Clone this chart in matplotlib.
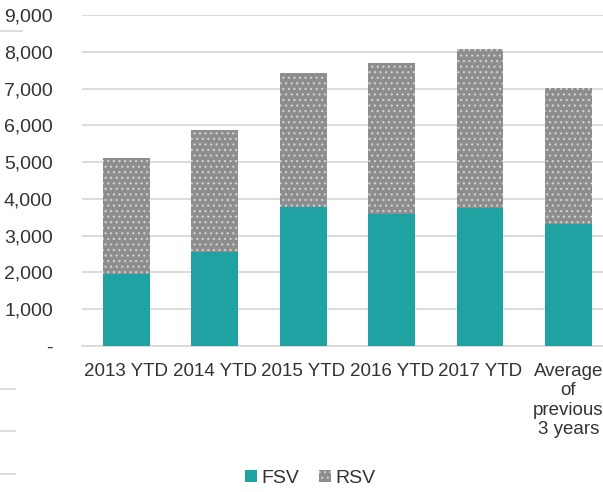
import matplotlib
matplotlib.use('Agg')
import matplotlib.pyplot as plt
import numpy as np
from matplotlib.lines import Line2D

categories = ['2013 YTD', '2014 YTD', '2015 YTD', '2016 YTD', '2017 YTD',
              'Average\nof\nprevious\n3 years']
fsv = [1950, 2550, 3790, 3580, 3740, 3310]
rsv = [3170, 3330, 3630, 4120, 4340, 3710]
y_ticks = [0, 1000, 2000, 3000, 4000, 5000, 6000, 7000, 8000, 9000]
y_labels = ['-', '1,000', '2,000', '3,000', '4,000', '5,000', '6,000',
            '7,000', '8,000', '9,000']

teal = '#21a2a2'
grey = '#8d8d8d'
text_col = '#333333'
grid_col = '#d9d9d9'

plt.rcParams['font.family'] = ['Liberation Sans', 'DejaVu Sans']
plt.rcParams['hatch.linewidth'] = 0.9

fig = plt.figure(figsize=(6.03, 4.92), dpi=100)
ax = fig.add_axes([82 / 603, 1 - 346 / 492, 1 - 82 / 603, (346 - 15) / 492])

x = np.arange(len(categories))
ax.bar(x, fsv, width=0.53, color=teal, linewidth=0, label='FSV', zorder=3)
ax.bar(x, rsv, bottom=fsv, width=0.53, facecolor=grey, edgecolor='#cfcfcf',
       hatch='...', linewidth=0, label='RSV', zorder=3)

ax.set_xlim(-0.5, 5.39)
ax.set_ylim(0, 9000)
ax.set_yticks(y_ticks)
ax.set_yticklabels(y_labels)
ax.set_xticks(x)
ax.set_xticklabels(categories, linespacing=1.2)
ax.tick_params(axis='y', length=0, labelsize=14, colors=text_col, pad=21)
ax.tick_params(axis='x', length=0, labelsize=13.5, colors=text_col, pad=12)

ax.grid(axis='y', color=grid_col, linewidth=1.3, zorder=0)
ax.set_axisbelow(True)
for side in ['top', 'right', 'left']:
    ax.spines[side].set_visible(False)
ax.spines['bottom'].set_color(grid_col)
ax.spines['bottom'].set_linewidth(1.3)

handles, labels = ax.get_legend_handles_labels()
fig.legend(handles, labels, loc='center', bbox_to_anchor=(0.515, 0.028),
           ncol=2, frameon=False, fontsize=14, handlelength=0.6,
           handleheight=0.6, handletextpad=0.25, columnspacing=1.0,
           labelcolor=text_col)

# stray lines at the left edge of the original crop
for yy, x1 in [(31, 22), (389, 15), (431, 15), (474, 15)]:
    fig.add_artist(Line2D([0, x1 / 603], [1 - yy / 492, 1 - yy / 492],
                          color=grid_col, linewidth=1.3))

fig.savefig('out.png', dpi=100)
